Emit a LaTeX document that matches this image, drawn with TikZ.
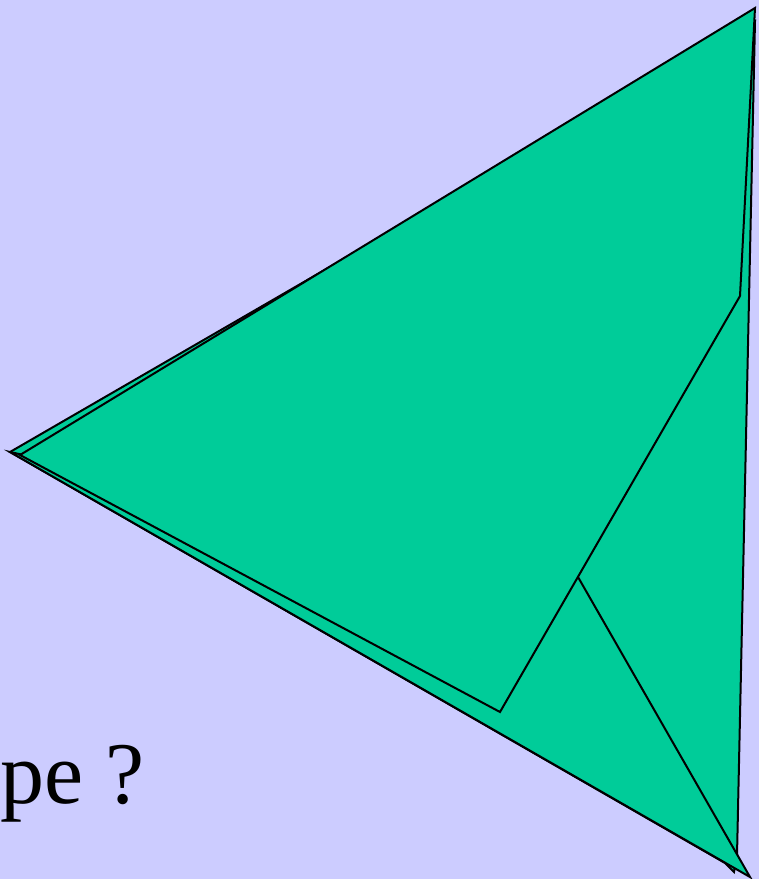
\documentclass[tikz,border=0pt]{standalone}
\usepackage{fontspec}
\setmainfont{Liberation Serif}
\definecolor{sky}{HTML}{CCCCFF}
\definecolor{leaf}{HTML}{00CC99}
\definecolor{edge}{HTML}{000000}
\tikzset{face/.style={fill=leaf, draw=edge, line width=1pt, line join=miter}}
\begin{document}
\begin{tikzpicture}[x=0.5pt, y=-0.5pt]
  % Background (fixes the page size)
  \fill[sky] (0, 0) rectangle (759, 879);
  \useasboundingbox (0, 0) rectangle (759, 879);

  % Back face, with its small tip below the lower edge
  \draw[face] (10, 452) -- (755, 21) -- (737, 856) -- (734, 872)
    -- (725, 863) -- cycle;

  % Lower fold
  \draw[face] (10, 452) -- (578, 577) -- (750, 877) -- cycle;

  % Front wing
  \draw[face] (20, 455) -- (755, 8) -- (740, 296) -- (500, 712) -- cycle;

  % Caption at the left edge
  \node[anchor=base west, inner sep=0pt, font=\fontsize{44}{50}\selectfont]
    (caption) at (0, 803) {pe ?};
\end{tikzpicture}
\end{document}
